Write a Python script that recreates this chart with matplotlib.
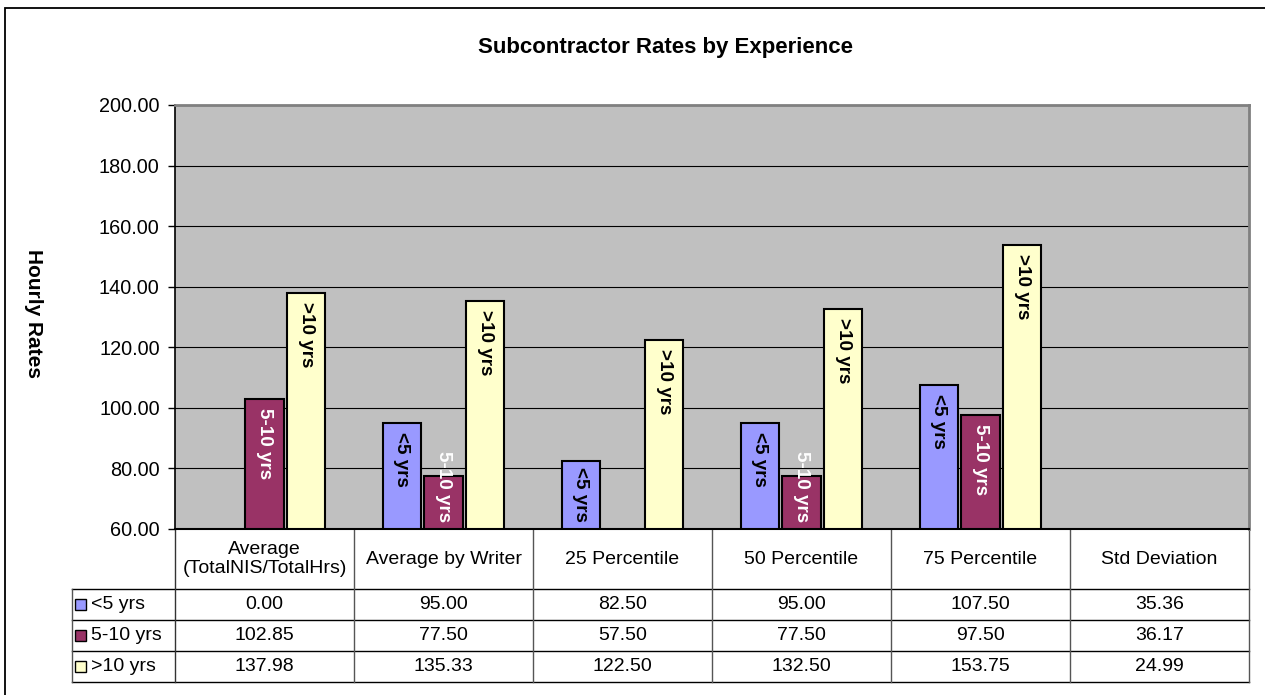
import matplotlib
matplotlib.use("Agg")
import matplotlib.pyplot as plt
import matplotlib.transforms as mtransforms
from matplotlib.patches import Rectangle
from matplotlib.lines import Line2D

plt.rcParams['font.family'] = ['Liberation Sans', 'DejaVu Sans']

# ---------------- data ----------------
categories = ["Average\n(TotalNIS/TotalHrs)", "Average by Writer", "25 Percentile",
              "50 Percentile", "75 Percentile", "Std Deviation"]
series_names = ["<5 yrs", "5-10 yrs", ">10 yrs"]
lt5 = [0.00, 95.00, 82.50, 95.00, 107.50, 35.36]
mid = [102.85, 77.50, 57.50, 77.50, 97.50, 36.17]
gt10 = [137.98, 135.33, 122.50, 132.50, 153.75, 24.99]
series_values = [lt5, mid, gt10]
series_colors = ["#9999FF", "#993366", "#FFFFCC"]
label_colors = ["black", "white", "black"]
yticks = [60, 80, 100, 120, 140, 160, 180, 200]
title = "Subcontractor Rates by Experience"
ylabel = "Hourly Rates"

# ---------------- layout ----------------
W, H = 1265, 695
fig = plt.figure(figsize=(W / 100, H / 100), dpi=100)
fig.patch.set_facecolor("white")

ax_l, ax_r, ax_t, ax_b = 175, 1249, 105, 529
ax = fig.add_axes([ax_l / W, (H - ax_b) / H, (ax_r - ax_l) / W, (ax_b - ax_t) / H])
ax.set_facecolor("#C0C0C0")
ax.set_xlim(-0.5, len(categories) - 0.5)
ax.set_ylim(yticks[0], yticks[-1])
ax.set_yticks(yticks)
ax.set_yticklabels([f"{v:.2f}" for v in yticks], fontsize=14.3)
ax.set_xticks([])
ax.tick_params(axis='y', direction='out', length=5, width=1, color='black', pad=6)
ax.set_axisbelow(True)
ax.yaxis.grid(True, color='black', linewidth=0.8)
ax.spines['left'].set_color('black')
ax.spines['left'].set_linewidth(1.2)
ax.spines['bottom'].set_color('black')
ax.spines['bottom'].set_linewidth(1.5)
for s in ('top', 'right'):
    ax.spines[s].set_color('#808080')
    ax.spines[s].set_linewidth(2)

# bars (Excel: gap width 150%, overlap -10%)
bw = 1 / 4.7
offsets = [-1.1 * bw, 0.0, 1.1 * bw]
texts = []
for si, vals in enumerate(series_values):
    xs = [i + offsets[si] for i in range(len(categories))]
    ax.bar(xs, vals, width=bw, color=series_colors[si], edgecolor='black',
           linewidth=1.5, zorder=2)
    for x, v in zip(xs, vals):
        if v > yticks[0]:
            t = ax.text(x, v, series_names[si], rotation=-90, ha='center', va='top',
                        fontsize=13.6, fontweight='bold', color=label_colors[si], zorder=3,
                        transform=mtransforms.offset_copy(ax.transData, fig=fig, y=-9, units='dots'))
            texts.append(t)

# keep labels inside the plot area
fig.canvas.draw()
renderer = fig.canvas.get_renderer()
bottom_px = ax.transAxes.transform((0, 0))[1]
for t in texts:
    bb = t.get_window_extent(renderer)
    if bb.y0 < bottom_px + 7:
        shift = (bottom_px + 7) - bb.y0
        top_px = bb.y1 + shift
        newy = ax.transData.inverted().transform((0, top_px))[1]
        t.set_transform(ax.transData)
        t.set_y(newy)

# ---------------- data table ----------------
trans = mtransforms.blended_transform_factory(ax.transData, ax.transAxes)
ax_h = ax_b - ax_t
col_w = (ax_r - ax_l) / len(categories)
hdr_h = 60 / ax_h
row_h = 31 / ax_h
x_left = -0.5 - 103 / col_w
x_right = len(categories) - 0.5
y_hdr_bot = -hdr_h
row_bots = [y_hdr_bot - (k + 1) * row_h for k in range(3)]

def hline(x0, x1, y, color='black', lw=1.0):
    ax.add_line(Line2D([x0, x1], [y, y], transform=trans, color=color, lw=lw, clip_on=False))

def vline(x, y0, y1, color='#555555', lw=1.0):
    ax.add_line(Line2D([x, x], [y0, y1], transform=trans, color=color, lw=lw, clip_on=False))

hline(x_left, x_right, y_hdr_bot)
for yb in row_bots:
    hline(x_left, x_right, yb)
vline(x_left, y_hdr_bot, row_bots[-1])
for k in range(len(categories) + 1):
    vline(k - 0.5, 0, row_bots[-1], color='#333333' if k == 0 else '#555555')

for i, c in enumerate(categories):
    ax.text(i, -hdr_h / 2, c, transform=trans, ha='center', va='center',
            fontsize=14, linespacing=1.15, clip_on=False)

sq_w = 11 / col_w
sq_h = 11 / ax_h
for si, name in enumerate(series_names):
    yc = y_hdr_bot - (si + 0.5) * row_h
    ax.add_patch(Rectangle((x_left + 3 / col_w, yc - sq_h / 2), sq_w, sq_h,
                           transform=trans, facecolor=series_colors[si],
                           edgecolor='black', lw=1.0, clip_on=False))
    ax.text(x_left + 19 / col_w, yc, name, transform=trans, ha='left', va='center',
            fontsize=14, clip_on=False)
    for i, v in enumerate(series_values[si]):
        ax.text(i, yc, f"{v:.2f}", transform=trans, ha='center', va='center',
                fontsize=14, clip_on=False)

# ---------------- titles & border ----------------
fig.text(666 / W, 1 - 48 / H, title, ha='center', va='center', fontsize=16, fontweight='bold')
fig.text(33 / W, 1 - 314 / H, ylabel, ha='center', va='center', rotation=-90,
         fontsize=15, fontweight='bold')
fig.patches.append(Rectangle((4.5 / W, -0.05), 1.1, (H - 7.5) / H + 0.05,
                             transform=fig.transFigure, fill=False,
                             edgecolor='black', lw=1.3))

fig.savefig("out.png", dpi=100)
